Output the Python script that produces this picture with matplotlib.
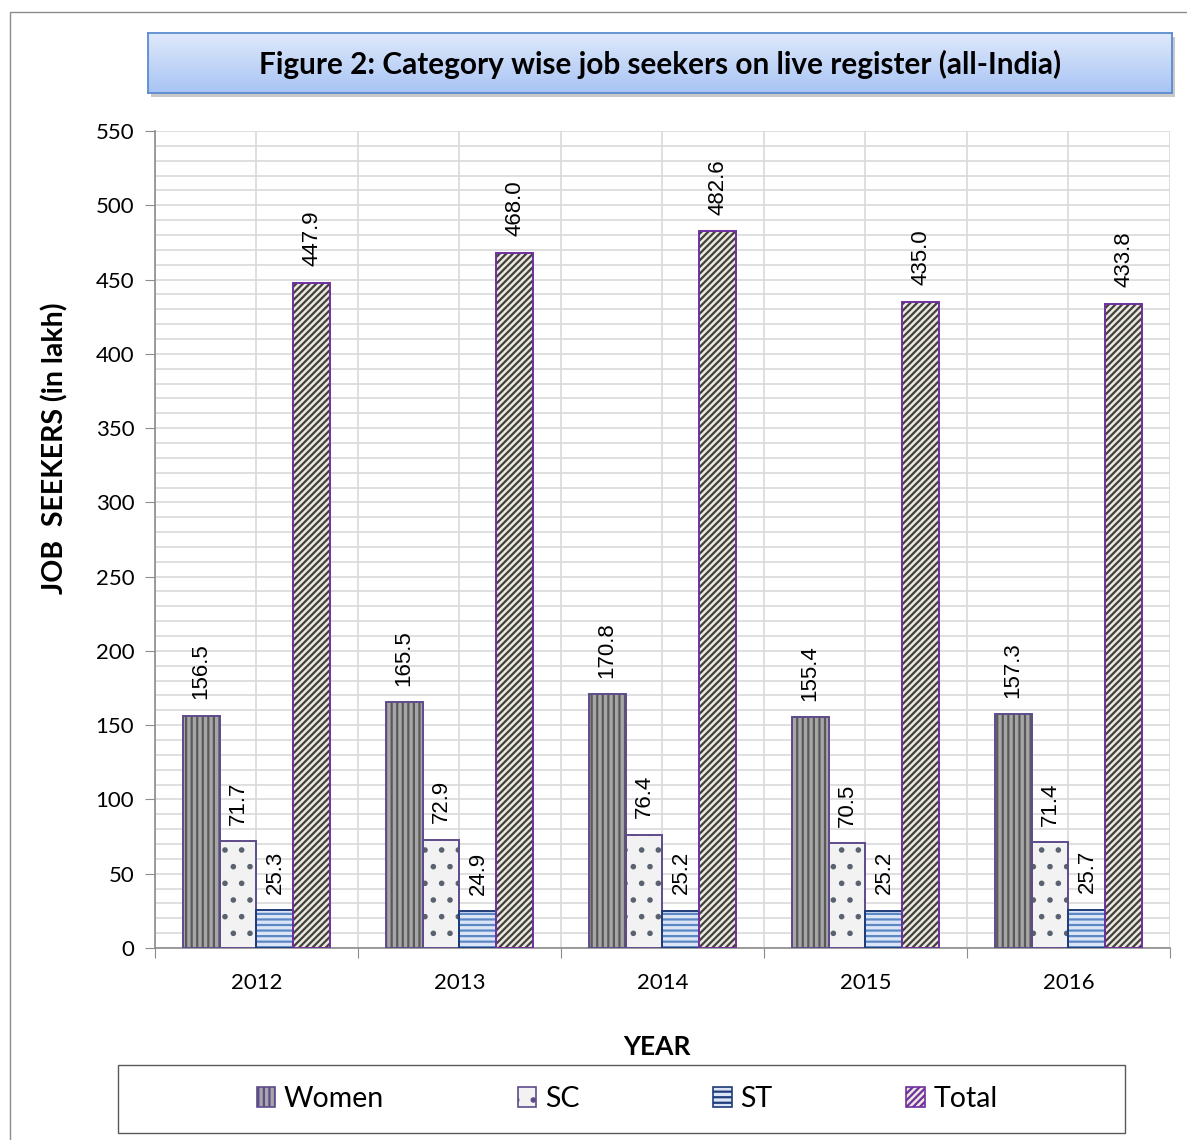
import numpy as np
import matplotlib
matplotlib.use("Agg")
import matplotlib.pyplot as plt
from matplotlib.patches import Patch, Rectangle
from matplotlib.colors import LinearSegmentedColormap

plt.rcParams['font.family'] = ['Lato', 'DejaVu Sans']
plt.rcParams['hatch.linewidth'] = 1.6

years = ['2012', '2013', '2014', '2015', '2016']
women = [156.5, 165.5, 170.8, 155.4, 157.3]
sc = [71.7, 72.9, 76.4, 70.5, 71.4]
st = [25.3, 24.9, 25.2, 25.2, 25.7]
total = [447.9, 468.0, 482.6, 435.0, 433.8]

series = [
    # name, values, face, hatch, hatch colour, edge
    ('Women', women, '#a6a6a6', '|||', '#595959', '#5f4b8b'),
    ('SC', sc, '#f2f2f2', '.', '#5a6270', '#5f4b8b'),
    ('ST', st, '#dbe5f5', '---', '#5b87c5', '#1f3d7a'),
    ('Total', total, '#ece9dc', '/////', '#404040', '#7030a0'),
]

W, H = 1187, 1140
fig = plt.figure(figsize=(W / 100, H / 100), dpi=100)

# outer frame
fig.patches.append(Rectangle((10 / W, -0.1), 1.2, 1 - 12 / H + 0.1, transform=fig.transFigure,
                             fill=False, edgecolor='#8c8c8c', linewidth=1.0, zorder=-2))

ax = fig.add_axes([155 / W, 1 - 948 / H, (1170 - 155) / W, (948 - 131) / H])

x = np.arange(len(years))
w = 0.182
for k, (name, vals, face, hatch, hc, ec) in enumerate(series):
    pos = x + (k - 1.5) * w
    ax.bar(pos, vals, w, color=face, hatch=hatch, edgecolor=hc, linewidth=0, zorder=3)
    ax.bar(pos, vals, w, fill=False, edgecolor=ec, linewidth=1.4, zorder=4)
    for p, v in zip(pos, vals):
        ax.text(p, v + 11, f'{v:.1f}', rotation=90, ha='center', va='bottom', fontsize=16,
                family=['Liberation Sans', 'DejaVu Sans'], zorder=5)

ax.set_xlim(-0.5, len(years) - 0.5)
ax.set_ylim(0, 550)
ax.set_yticks(np.arange(0, 551, 50))
ax.set_yticks(np.arange(0, 551, 10), minor=True)
ax.tick_params(axis='y', which='minor', length=0)
ax.set_xticks(np.arange(-0.5, len(years), 1.0))
ax.set_xticks(np.arange(0, len(years), 1.0), minor=True)
ax.set_xticklabels([])
ax.set_xticklabels(years, minor=True)
ax.tick_params(axis='x', which='minor', length=0, pad=18, labelsize=16)
ax.tick_params(axis='x', which='major', length=7, color='#8c8c8c')
ax.tick_params(axis='y', which='major', length=7, color='#8c8c8c', labelsize=16, pad=8)
ax.grid(True, which='both', axis='y', color='#d9d9d9', linewidth=1.2, zorder=0)
ax.grid(True, which='both', axis='x', color='#d9d9d9', linewidth=1.2, zorder=0)
ax.set_axisbelow(True)
for s in ['top', 'right']:
    ax.spines[s].set_visible(False)
for s in ['left', 'bottom']:
    ax.spines[s].set_color('#8c8c8c')
    ax.spines[s].set_linewidth(1.2)

fig.text(55 / W, 1 - 448 / H, 'JOB  SEEKERS (in lakh)', rotation=90, ha='center', va='center',
         fontsize=20.5, fontweight='bold')
fig.text(657 / W, 1 - 1047 / H, 'YEAR', ha='center', va='center', fontsize=19, fontweight='bold')

# title box with gradient and shadow
tx0, ty0, tx1, ty1 = 148, 33, 1172, 93
fig.patches.append(Rectangle(((tx0 + 3) / W, 1 - (ty1 + 4) / H), (tx1 - tx0) / W, (ty1 - ty0) / H,
                             transform=fig.transFigure, facecolor='#c8c8c8', edgecolor='none', zorder=-1))
tax = fig.add_axes([tx0 / W, 1 - ty1 / H, (tx1 - tx0) / W, (ty1 - ty0) / H])
grad = np.linspace(0, 1, 100).reshape(-1, 1)
cmap = LinearSegmentedColormap.from_list('tb', ['#dfe9fb', '#a8c4f4'])
tax.imshow(grad, aspect='auto', cmap=cmap, extent=[0, 1, 0, 1], origin='upper')
tax.set_xticks([])
tax.set_yticks([])
for s in tax.spines.values():
    s.set_color('#5b8bd0')
    s.set_linewidth(1.3)
tax.text(0.5, 0.47, 'Figure 2: Category wise job seekers on live register (all-India)',
         ha='center', va='center', fontsize=21.4, fontweight='bold', transform=tax.transAxes)

# legend box and legend
fig.patches.append(Rectangle((118 / W, 1 - 1133 / H), (1125 - 118) / W, (1133 - 1065) / H,
                             transform=fig.transFigure, fill=False, edgecolor='#595959', linewidth=1.0))
handles = []
for name, vals, face, hatch, hc, ec in series:
    handles.append(Patch(facecolor=face, hatch=hatch, edgecolor=ec, linewidth=1.2, label=name))
leg = fig.legend(handles=handles, ncol=4, loc='center', bbox_to_anchor=(627 / W, 1 - 1099 / H),
                 fontsize=20.5, frameon=False, handlelength=0.65, handleheight=0.65,
                 handletextpad=0.3, columnspacing=4.7)

fig.savefig('out.png', dpi=100)
